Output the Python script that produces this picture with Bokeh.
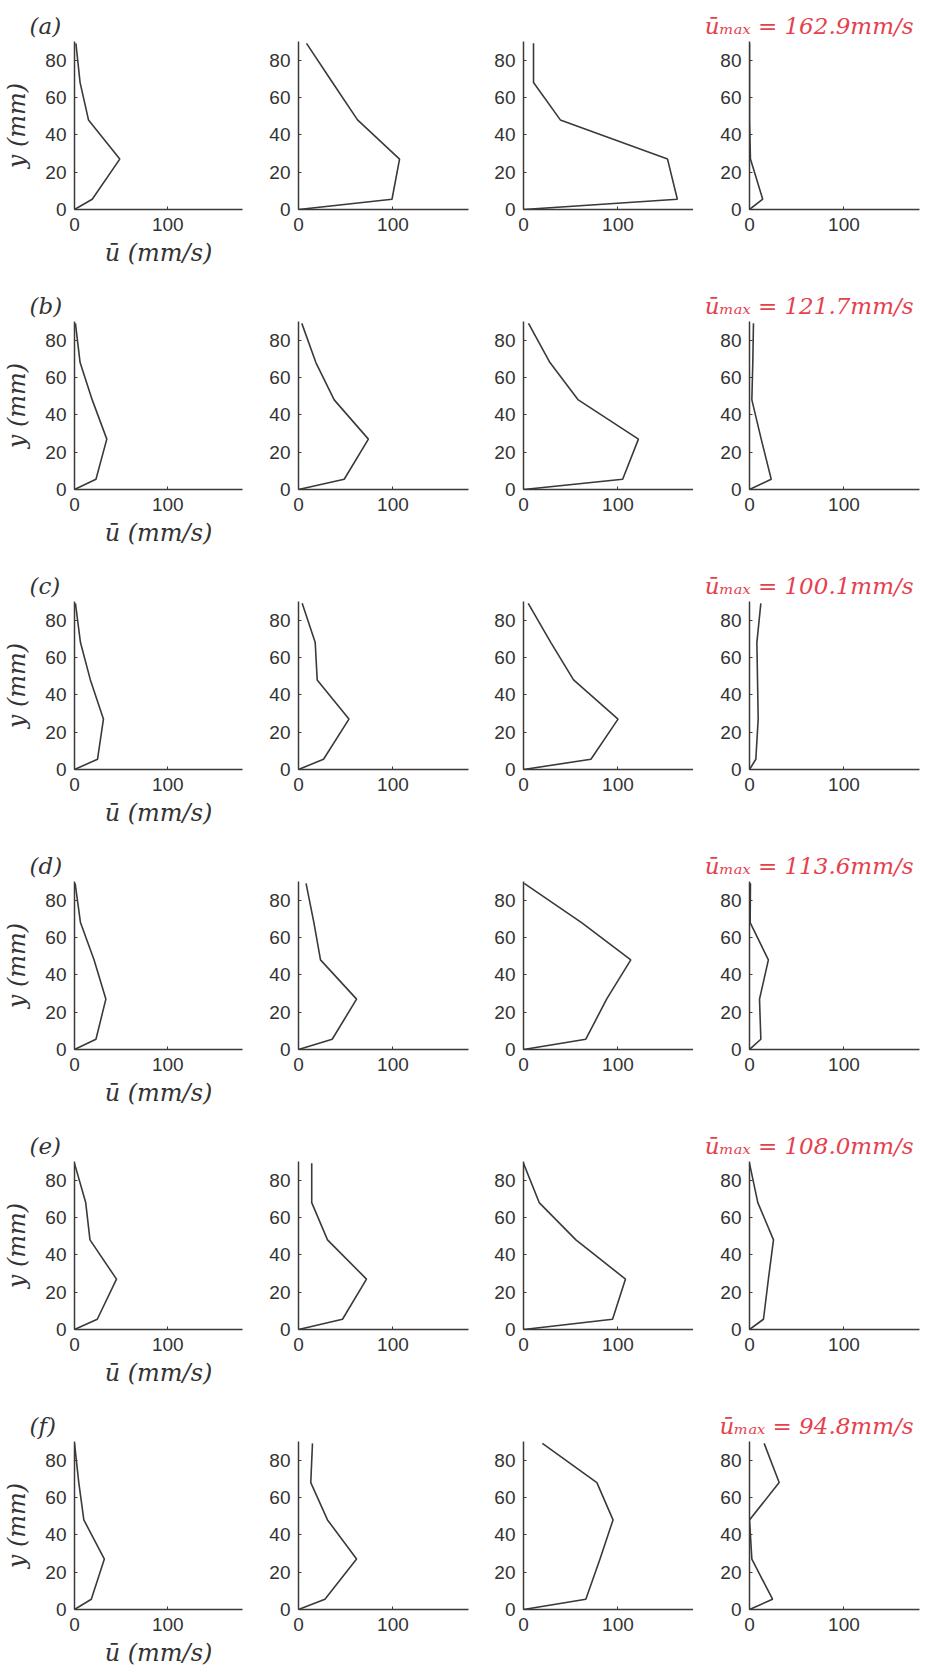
from bokeh.plotting import figure
from bokeh.layouts import gridplot
from bokeh.models import FixedTicker, Range1d
from bokeh.embed import file_html
from bokeh.resources import INLINE

# ---------------- data ----------------
row_letters = ["a", "b", "c", "d", "e", "f"]
u_max = [162.9, 121.7, 100.1, 113.6, 108.0, 94.8]

# heights (mm) of the measurement points
y_levels = [0, 5.5, 27, 48, 68, 89]

# mean velocity (mm/s) at each height, one list per panel
a1 = [0, 19, 48.5, 15, 6, 1.5]
a2 = [0, 99, 107, 62.5, 36, 8.5]
a3 = [0, 162.9, 152.5, 39, 10.6, 10.6]
a4 = [0, 14, 1, 0, 0, 0]

b1 = [0, 23, 34.6, 19, 6, 1]
b2 = [0, 48.4, 74, 37.8, 18.4, 3.5]
b3 = [0, 105, 121.7, 58, 28, 5.3]
b4 = [0, 23, 12.4, 2.5, 3.5, 4.2]

c1 = [0, 24.7, 31, 17, 6.4, 1]
c2 = [0, 26.5, 53.4, 19.8, 17.7, 3.9]
c3 = [0, 71.4, 100.1, 53, 29, 5]
c4 = [0, 6.7, 9.2, 8.5, 7.8, 12]

d1 = [0, 23, 33.6, 21, 6.4, 0.7]
d2 = [0, 35.7, 61.5, 23.3, 16.3, 8]
d3 = [0, 66, 88, 113.6, 61.5, 0.7]
d4 = [0, 12, 10.6, 20, 0.7, 1]

e1 = [0, 24.4, 45, 16.6, 12, 0]
e2 = [0, 46.6, 72, 30.7, 14, 14]
e3 = [0, 94.3, 108.0, 55.5, 16.6, 0]
e4 = [0, 14.8, 20, 25.4, 8.8, 0]

f1 = [0, 18, 32, 10, 4.6, 0]
f2 = [0, 28, 61.5, 30.7, 13, 14.8]
f3 = [0, 66, 81, 94.8, 77.7, 20]
f4 = [0, 24.4, 2.5, 0, 31.4, 15.5]

profiles = [
    [a1, a2, a3, a4],
    [b1, b2, b3, b4],
    [c1, c2, c3, c4],
    [d1, d2, d3, d4],
    [e1, e2, e3, e4],
    [f1, f2, f3, f4],
]

x_ticks = [0, 100]
y_ticks = [0, 20, 40, 60, 80]
x_label = "ū (mm/s)"
y_label = "y (mm)"

# ---------------- styling / layout ----------------
X_MAX, Y_MAX = 180, 90
FRAME_W, FRAME_H = 170, 168
col_left = [72, 46, 45, 56]
col_right = [10, 10, 0, 6]
row_top = 41
row_bottom = [71, 71, 71, 71, 71, 65]

INK = "#3a3a3a"
TXT = "#333333"
RED = "#e5414d"
SERIF = "DejaVu Serif"
SANS = "Liberation Sans"

rows = []
for r in range(6):
    row = []
    for c in range(4):
        w = col_left[c] + FRAME_W + col_right[c]
        h = row_top + FRAME_H + row_bottom[r]
        p = figure(width=w, height=h,
                   x_range=Range1d(0, X_MAX), y_range=Range1d(0, Y_MAX),
                   min_border_left=col_left[c], min_border_right=col_right[c],
                   min_border_top=row_top, min_border_bottom=row_bottom[r],
                   output_backend="svg", toolbar_location=None, tools="")
        p.xgrid.visible = False
        p.ygrid.visible = False
        p.outline_line_color = None
        p.background_fill_color = "white"
        p.border_fill_color = "white"
        p.xaxis.ticker = FixedTicker(ticks=x_ticks)
        p.yaxis.ticker = FixedTicker(ticks=y_ticks)
        for ax in (p.xaxis[0], p.yaxis[0]):
            ax.axis_line_color = INK
            ax.axis_line_width = 1.5
            ax.major_tick_line_color = INK
            ax.major_tick_in = 3
            ax.major_tick_out = 0
            ax.minor_tick_line_color = None
            ax.major_label_text_font = SANS
            ax.major_label_text_font_size = "19px"
            ax.major_label_text_color = TXT
            ax.major_label_standoff = 8
            ax.axis_label_text_font = SERIF
            ax.axis_label_text_font_style = "italic"
            ax.axis_label_text_font_size = "24px"
            ax.axis_label_text_color = TXT

        p.line(profiles[r][c], y_levels, line_color=INK, line_width=1.6)

        if c == 0:
            p.xaxis.axis_label = x_label
            p.xaxis.axis_label_standoff = 5
            p.yaxis.axis_label = y_label
            p.yaxis.axis_label_standoff = 11
            p.title.text = "(" + row_letters[r] + ")"
            p.title.align = "left"
            p.title.offset = -45
            p.title.standoff = 5
            p.title.text_font = SERIF
            p.title.text_font_style = "italic"
            p.title.text_font_size = "23px"
            p.title.text_color = TXT
        if c == 3:
            p.title.text = "ū\u2098\u2090\u2093 = %.1fmm/s" % u_max[r]
            p.title.align = "right"
            p.title.offset = 6
            p.title.standoff = 5
            p.title.text_font = SERIF
            p.title.text_font_style = "italic"
            p.title.text_font_size = "23px"
            p.title.text_color = RED
        row.append(p)
    rows.append(row)

grid = gridplot(rows, toolbar_location=None)
open("out.html", "w").write(file_html(grid, INLINE))
